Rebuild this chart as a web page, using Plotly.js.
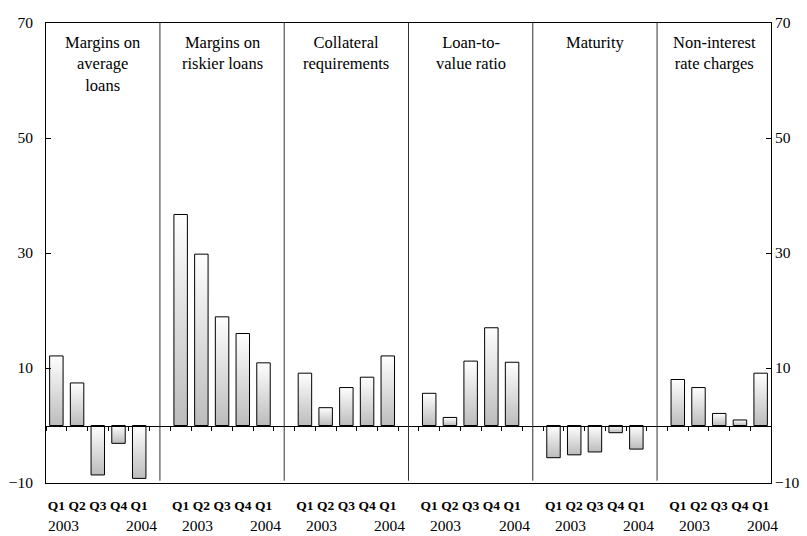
<!DOCTYPE html>
<html>
<head>
<meta charset="utf-8">
<script src="https://cdn.plot.ly/plotly-3.0.1.min.js"></script>
<style>
  html, body { margin: 0; padding: 0; background: #fff; }
  #chart { width: 807px; height: 536px; }
</style>
</head>
<body>
<div id="chart"></div>
<script>
// ---- Data ----
const panelTitles = ['Margins on<br>average<br>loans', 'Margins on<br>riskier loans', 'Collateral<br>requirements', 'Loan-to-<br>value ratio', 'Maturity', 'Non-interest<br>rate charges'];
const quarterLabels = ['Q1', 'Q2', 'Q3', 'Q4', 'Q1'];
const yearLabels = ['2003', '2004'];
const marginsAverage = [12.1, 7.4, -8.6, -3.1, -9.2];
const marginsRiskier = [36.7, 29.8, 18.9, 16.0, 10.9];
const collateral = [9.1, 3.1, 6.6, 8.4, 12.1];
const loanToValue = [5.6, 1.4, 11.2, 17.0, 11.0];
const maturity = [-5.6, -5.1, -4.6, -1.25, -4.1];
const nonInterest = [8.0, 6.6, 2.1, 0.96, 9.1];
const yTickValues = [-10, 10, 30, 50, 70];

// ---- Build ----
const series = [marginsAverage, marginsRiskier, collateral, loanToValue, maturity, nonInterest];
const slotsPerPanel = quarterLabels.length + 1;
const nSlots = series.length * slotsPerPanel - 1;
const xRange = [-0.5, nSlots - 0.5];
const yRange = [-10, 70];

const barX = [], barY = [], tickText = [];
series.forEach((vals, p) => {
  vals.forEach((v, q) => {
    barX.push(p * slotsPerPanel + q);
    barY.push(v);
    tickText.push(quarterLabels[q]);
  });
});
const boundaries = [];
for (let k = 0; k <= nSlots; k++) boundaries.push(k - 0.5);

const FONT = 'Liberation Serif, Times New Roman, serif';

const traces = [
  {
    type: 'bar', x: barX, y: barY, width: 0.65,
    marker: { color: '#e0e0e0', line: { color: '#000', width: 1 } },
    hoverinfo: 'skip', showlegend: false
  },
  { type: 'scatter', x: [xRange[0]], y: [yRange[0]], xaxis: 'x2', yaxis: 'y', mode: 'none', hoverinfo: 'skip', showlegend: false },
  { type: 'scatter', x: [xRange[0]], y: [yRange[0]], xaxis: 'x', yaxis: 'y2', mode: 'none', hoverinfo: 'skip', showlegend: false }
];

const shapes = [];
for (let p = 1; p < series.length; p++) {
  const sx = p * slotsPerPanel - 1;
  shapes.push({ type: 'line', xref: 'x', yref: 'y', x0: sx, x1: sx, y0: -9.6, y1: 70, line: { color: '#333', width: 1 } });
}

const annotations = [];
panelTitles.forEach((t, p) => {
  const left = p === 0 ? xRange[0] : p * slotsPerPanel - 1;
  const right = p === series.length - 1 ? xRange[1] : p * slotsPerPanel + quarterLabels.length;
  annotations.push({
    xref: 'x', yref: 'paper', x: (left + right) / 2, y: 1, yanchor: 'top', yshift: -8,
    text: t, showarrow: false, font: { family: FONT, size: 16.5, color: '#000' }
  });
  const y1x = p * slotsPerPanel + (p === 0 ? 0.35 : 0.8);
  const y2x = p * slotsPerPanel + 4.1;
  [[yearLabels[0], y1x], [yearLabels[1], y2x]].forEach(([txt, xx]) => {
    annotations.push({
      xref: 'x', yref: 'paper', x: xx, y: 0, yanchor: 'top', yshift: -33, borderpad: 0,
      text: txt, showarrow: false, font: { family: FONT, size: 15.5, color: '#000' }
    });
  });
});

const layout = {
  width: 807, height: 536,
  margin: { l: 46, r: 36, t: 23, b: 53, pad: 0 },
  paper_bgcolor: '#fff', plot_bgcolor: '#fff',
  font: { family: FONT, color: '#000' },
  bargap: 0,
  xaxis: {
    range: xRange, showgrid: false, zeroline: false,
    showline: true, mirror: true, linecolor: '#000', linewidth: 1,
    ticks: '', tickmode: 'array', tickvals: barX, ticktext: tickText,
    ticklabelstandoff: 10,
    tickfont: { family: FONT, size: 13.5, weight: 'bold', color: '#000' }
  },
  xaxis2: {
    overlaying: 'x', anchor: 'free', position: (0 - yRange[0]) / (yRange[1] - yRange[0]),
    range: xRange, showgrid: false, zeroline: false,
    showline: true, linecolor: '#000', linewidth: 1,
    ticks: 'outside', ticklen: 4, tickcolor: '#000', tickwidth: 1,
    tickmode: 'array', tickvals: boundaries, showticklabels: false
  },
  yaxis: {
    range: yRange, showgrid: false, zeroline: false,
    showline: true, linecolor: '#000', linewidth: 1,
    ticks: 'inside', ticklen: 5, tickcolor: '#000',
    tickmode: 'array', tickvals: yTickValues, ticklabelstandoff: 9,
    tickfont: { family: FONT, size: 15.5, color: '#000' }
  },
  yaxis2: {
    overlaying: 'y', side: 'right', range: yRange, showgrid: false, zeroline: false,
    showline: true, linecolor: '#000', linewidth: 1,
    ticks: 'inside', ticklen: 5, tickcolor: '#000',
    tickmode: 'array', tickvals: yTickValues,
    tickfont: { family: FONT, size: 15.5, color: '#000' }
  },
  shapes: shapes,
  annotations: annotations
};

Plotly.newPlot('chart', traces, layout, { staticPlot: true, displayModeBar: false }).then(gd => {
  const svg = gd.querySelector('svg.main-svg');
  const ns = 'http://www.w3.org/2000/svg';
  let defs = svg.querySelector('defs');
  if (!defs) { defs = document.createElementNS(ns, 'defs'); svg.insertBefore(defs, svg.firstChild); }
  const grad = document.createElementNS(ns, 'linearGradient');
  grad.setAttribute('id', 'barGrad');
  grad.setAttribute('x1', '0'); grad.setAttribute('y1', '0');
  grad.setAttribute('x2', '0'); grad.setAttribute('y2', '1');
  [['0%', '#ffffff'], ['100%', '#bcbcbc']].forEach(([o, c]) => {
    const s = document.createElementNS(ns, 'stop');
    s.setAttribute('offset', o); s.setAttribute('stop-color', c);
    grad.appendChild(s);
  });
  defs.appendChild(grad);
  gd.querySelectorAll('.bars .point path').forEach(p => { p.style.fill = 'url(#barGrad)'; });
});
</script>
</body>
</html>
